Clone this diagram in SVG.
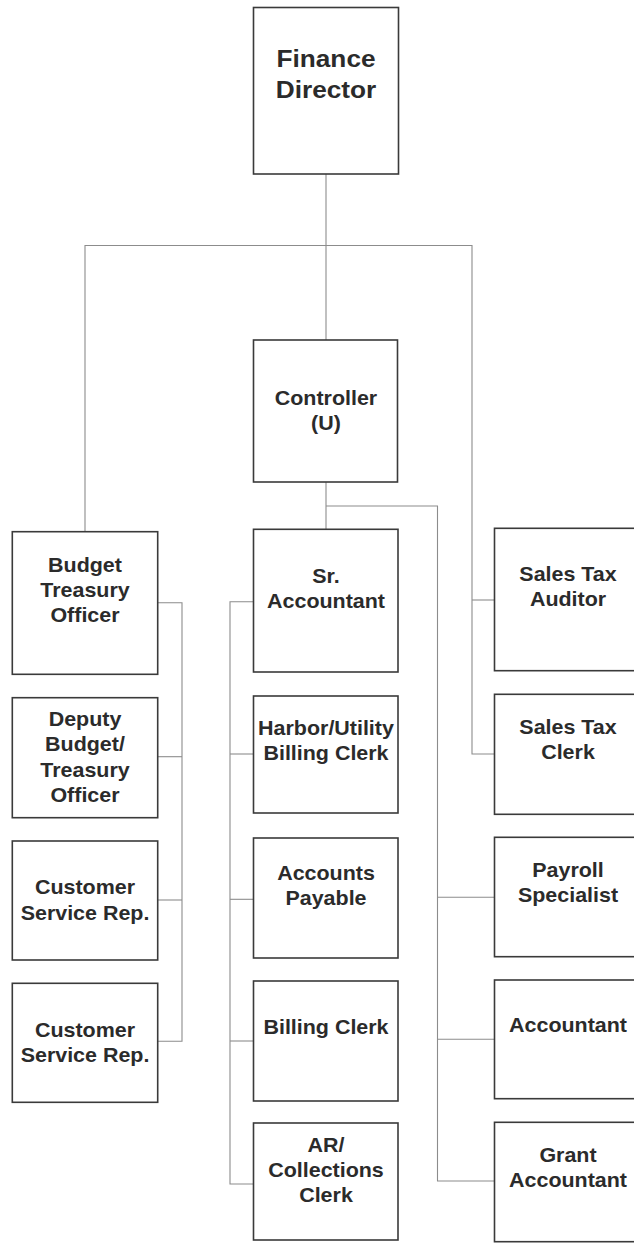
<svg xmlns="http://www.w3.org/2000/svg" width="634" height="1243" viewBox="0 0 634 1243">
<style>
.box{fill:#ffffff;stroke:#3a3a3a;stroke-width:1.6}
.ln{fill:none;stroke:#8c8c8c;stroke-width:1.1}
.t{font-family:"Liberation Sans",Arial,sans-serif;font-weight:bold;font-size:19.5px;fill:#2b2b2b;text-anchor:middle}
.big{font-size:23px}
</style>
<rect width="634" height="1243" fill="#ffffff"/>
<g id="connectors">
<path class="ln" d="M326 174 V340"/>
<path class="ln" d="M85 531.7 V245.5 H472 V754 H494.5"/>
<path class="ln" d="M472 600 H494.5"/>
<path class="ln" d="M157.7 602.7 H182 V1041.3 H157.7"/>
<path class="ln" d="M157.7 756.7 H182"/>
<path class="ln" d="M157.7 900 H182"/>
<path class="ln" d="M326 482 V529.3"/>
<path class="ln" d="M326 506 H437.5 V1181 H494.5"/>
<path class="ln" d="M437.5 897.3 H494.5"/>
<path class="ln" d="M437.5 1039.3 H494.5"/>
<path class="ln" d="M253.5 601.7 H230 V1184 H253.5"/>
<path class="ln" d="M230 754 H253.5"/>
<path class="ln" d="M230 899.3 H253.5"/>
<path class="ln" d="M230 1041 H253.5"/>
</g>
<g id="finance-director">
<rect class="box" x="253.5" y="7.5" width="145" height="166.5"/>
<text class="t big" transform="translate(326 0) scale(1.14 1)"><tspan x="0" y="66.7">Finance</tspan><tspan x="0" y="97.7">Director</tspan></text>
</g>
<g id="controller">
<rect class="box" x="253.5" y="340" width="144" height="142"/>
<text class="t" transform="translate(326 0) scale(1.1 1)"><tspan x="0" y="405">Controller</tspan><tspan x="0" y="430">(U)</tspan></text>
</g>
<g id="budget-treasury-officer">
<rect class="box" x="12.3" y="531.7" width="145.4" height="142.6"/>
<text class="t" transform="translate(85 0) scale(1.1 1)"><tspan x="0" y="572.3">Budget</tspan><tspan x="0" y="597.3">Treasury</tspan><tspan x="0" y="621.7">Officer</tspan></text>
</g>
<g id="deputy-budget-treasury-officer">
<rect class="box" x="12.3" y="697.7" width="145.4" height="120"/>
<text class="t" transform="translate(85 0) scale(1.1 1)"><tspan x="0" y="726">Deputy</tspan><tspan x="0" y="751">Budget/</tspan><tspan x="0" y="776.7">Treasury</tspan><tspan x="0" y="801.7">Officer</tspan></text>
</g>
<g id="customer-service-rep-1">
<rect class="box" x="12.3" y="841" width="145.4" height="119"/>
<text class="t" transform="translate(85 0) scale(1.1 1)"><tspan x="0" y="894.3">Customer</tspan><tspan x="0" y="920">Service Rep.</tspan></text>
</g>
<g id="customer-service-rep-2">
<rect class="box" x="12.3" y="983.3" width="145.4" height="119"/>
<text class="t" transform="translate(85 0) scale(1.1 1)"><tspan x="0" y="1036.7">Customer</tspan><tspan x="0" y="1061.7">Service Rep.</tspan></text>
</g>
<g id="sr-accountant">
<rect class="box" x="253.5" y="529.3" width="144.5" height="142.7"/>
<text class="t" transform="translate(326 0) scale(1.1 1)"><tspan x="0" y="582.7">Sr.</tspan><tspan x="0" y="608.3">Accountant</tspan></text>
</g>
<g id="harbor-utility-billing-clerk">
<rect class="box" x="253.5" y="696" width="144.5" height="117"/>
<text class="t" transform="translate(326 0) scale(1.1 1)"><tspan x="0" y="735">Harbor/Utility</tspan><tspan x="0" y="760">Billing Clerk</tspan></text>
</g>
<g id="accounts-payable">
<rect class="box" x="253.5" y="838" width="144.5" height="120"/>
<text class="t" transform="translate(326 0) scale(1.1 1)"><tspan x="0" y="880">Accounts</tspan><tspan x="0" y="905">Payable</tspan></text>
</g>
<g id="billing-clerk">
<rect class="box" x="253.5" y="981" width="144.5" height="120"/>
<text class="t" transform="translate(326 0) scale(1.1 1)"><tspan x="0" y="1034">Billing Clerk</tspan></text>
</g>
<g id="ar-collections-clerk">
<rect class="box" x="253.5" y="1123" width="144.5" height="117"/>
<text class="t" transform="translate(326 0) scale(1.1 1)"><tspan x="0" y="1151.7">AR/</tspan><tspan x="0" y="1176.7">Collections</tspan><tspan x="0" y="1201.7">Clerk</tspan></text>
</g>
<g id="sales-tax-auditor">
<rect class="box" x="494.5" y="528.3" width="147" height="142.4"/>
<text class="t" transform="translate(568 0) scale(1.1 1)"><tspan x="0" y="581">Sales Tax</tspan><tspan x="0" y="605.7">Auditor</tspan></text>
</g>
<g id="sales-tax-clerk">
<rect class="box" x="494.5" y="694.3" width="147" height="120"/>
<text class="t" transform="translate(568 0) scale(1.1 1)"><tspan x="0" y="734.3">Sales Tax</tspan><tspan x="0" y="759.3">Clerk</tspan></text>
</g>
<g id="payroll-specialist">
<rect class="box" x="494.5" y="837.3" width="147" height="119.4"/>
<text class="t" transform="translate(568 0) scale(1.1 1)"><tspan x="0" y="876.7">Payroll</tspan><tspan x="0" y="902.3">Specialist</tspan></text>
</g>
<g id="accountant">
<rect class="box" x="494.5" y="980" width="147" height="118.7"/>
<text class="t" transform="translate(568 0) scale(1.1 1)"><tspan x="0" y="1031.7">Accountant</tspan></text>
</g>
<g id="grant-accountant">
<rect class="box" x="494.5" y="1122.3" width="147" height="119.4"/>
<text class="t" transform="translate(568 0) scale(1.1 1)"><tspan x="0" y="1161.7">Grant</tspan><tspan x="0" y="1187.3">Accountant</tspan></text>
</g>
</svg>
